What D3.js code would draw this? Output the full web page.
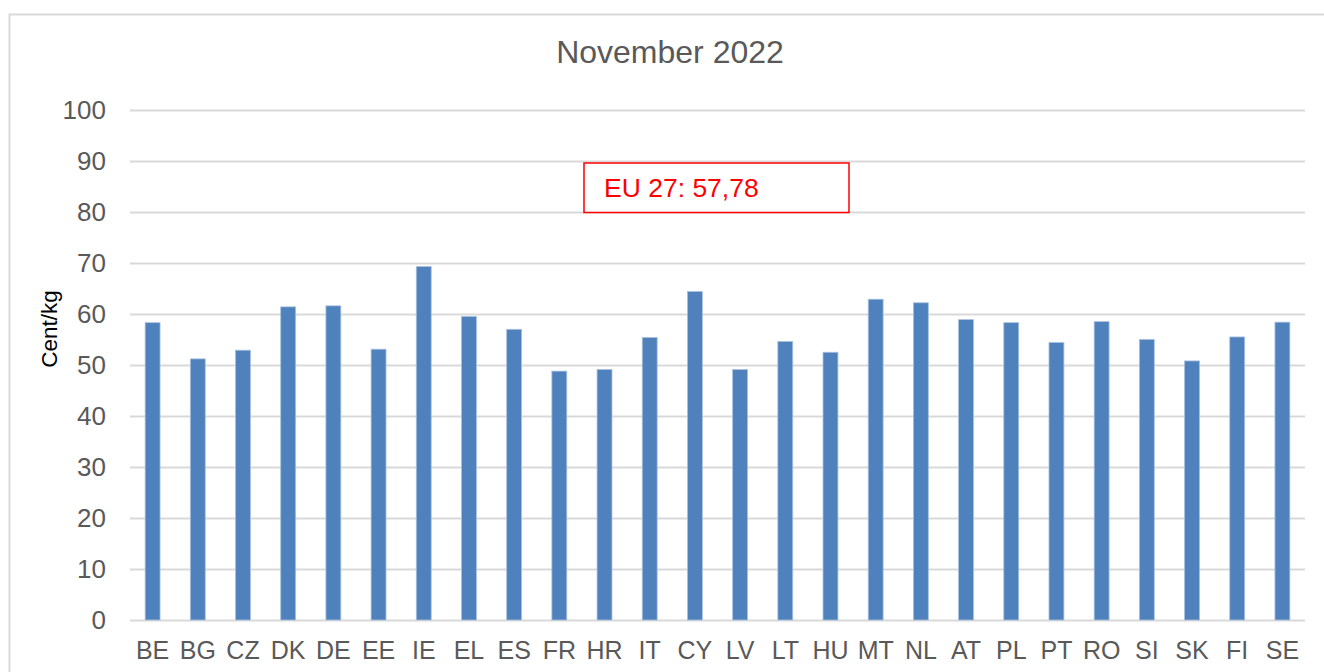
<!DOCTYPE html>
<html>
<head>
<meta charset="utf-8">
<script src="https://cdn.jsdelivr.net/npm/d3@7"></script>
<style>
  body { margin: 0; background: #fff; }
  text { font-family: Arial, "Liberation Sans", sans-serif; }
</style>
</head>
<body>
<div id="chart"></div>
<script>
// data (cent/kg, November 2022)
var countries = ["BE","BG","CZ","DK","DE","EE","IE","EL","ES","FR","HR","IT","CY",
                 "LV","LT","HU","MT","NL","AT","PL","PT","RO","SI","SK","FI","SE"];
var prices = [58.3, 51.2, 52.9, 61.4, 61.6, 53.1, 69.3, 59.5, 57.0, 48.8, 49.1, 55.4, 64.4,
              49.1, 54.6, 52.5, 62.9, 62.2, 58.9, 58.3, 54.4, 58.5, 55.0, 50.8, 55.5, 58.4];
var yTicks = [0, 10, 20, 30, 40, 50, 60, 70, 80, 90, 100];
var chartTitle = "November 2022";
var yLabel = "Cent/kg";
var euLabel = "EU 27: 57,78";

var W = 1324, H = 672;
var margin = {top: 110, right: 19, bottom: 52, left: 130},
    width = W - margin.left - margin.right,
    height = H - margin.top - margin.bottom;

var svg = d3.select("#chart")
  .append("svg")
  .attr("width", W)
  .attr("height", H);

// outer chart frame (runs off the page at right and bottom)
svg.append("rect")
  .attr("x", 9.5).attr("y", 14.5)
  .attr("width", W + 20).attr("height", H + 20)
  .attr("fill", "#fff")
  .attr("stroke", "#d9d9d9")
  .attr("stroke-width", 2);

var g = svg.append("g")
  .attr("transform", "translate(" + margin.left + "," + margin.top + ")");

var y = d3.scaleLinear().domain([0, 100]).range([height, 0]);
var x = d3.scaleBand().domain(countries).range([0, width]).paddingInner(0.67).paddingOuter(0.335);

// gridlines
g.selectAll(".grid")
  .data(yTicks)
  .enter()
  .append("line")
    .attr("x1", 0).attr("x2", width)
    .attr("y1", function(d) { return y(d) + 0.5; })
    .attr("y2", function(d) { return y(d) + 0.5; })
    .attr("stroke", "#d9d9d9")
    .attr("stroke-width", 2);

// y axis
var yAxis = g.append("g")
  .call(d3.axisLeft(y).tickValues(yTicks).tickSize(0).tickPadding(24));
yAxis.select(".domain").remove();
yAxis.selectAll("text")
  .attr("fill", "#595959")
  .style("font-size", "26px");

// x axis
var xAxis = g.append("g")
  .attr("transform", "translate(0," + height + ")")
  .call(d3.axisBottom(x).tickSize(0).tickPadding(21));
xAxis.select(".domain").remove();
xAxis.selectAll("text")
  .attr("fill", "#595959")
  .style("font-size", "25px");

// bars
g.selectAll(".bar")
  .data(prices)
  .enter()
  .append("rect")
    .attr("x", function(d, i) { return x(countries[i]); })
    .attr("y", function(d) { return y(d); })
    .attr("width", x.bandwidth())
    .attr("height", function(d) { return height - y(d); })
    .attr("fill", "#4f81bd")
    .attr("stroke", "#a9c0e0")
    .attr("stroke-width", 0.8);

// title
svg.append("text")
  .attr("x", 670).attr("y", 63)
  .attr("text-anchor", "middle")
  .attr("fill", "#595959")
  .style("font-size", "32px")
  .text(chartTitle);

// y label
svg.append("text")
  .attr("transform", "translate(57,329)rotate(-90)")
  .attr("text-anchor", "middle")
  .attr("fill", "#000")
  .style("font-size", "22.5px")
  .text(yLabel);

// EU average box
svg.append("rect")
  .attr("x", 584).attr("y", 163)
  .attr("width", 265).attr("height", 49.5)
  .attr("fill", "#fff")
  .attr("stroke", "#ff0000")
  .attr("stroke-width", 1.5);
svg.append("text")
  .attr("x", 604).attr("y", 197)
  .attr("fill", "#ff0000")
  .style("font-size", "26.5px")
  .text(euLabel);
</script>
</body>
</html>
